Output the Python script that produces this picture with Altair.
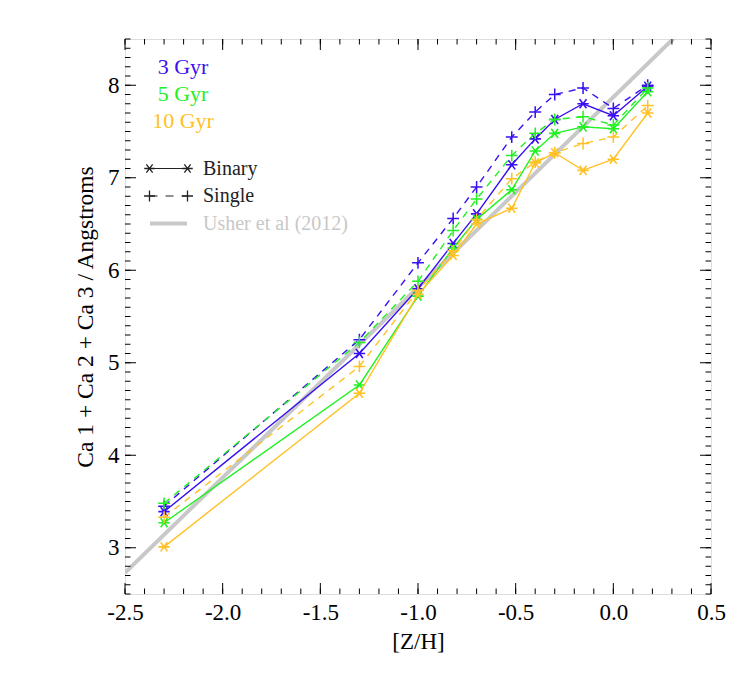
import altair as alt
import pandas as pd

# ---------------- data ----------------
zh = [-2.30, -1.30, -1.00, -0.82, -0.70, -0.52, -0.40, -0.30, -0.155, 0.0, 0.176]

bin_3 = [3.39, 5.10, 5.80, 6.29, 6.61, 7.14, 7.42, 7.63, 7.80, 7.67, 7.99]
sin_3 = [3.45, 5.25, 6.08, 6.56, 6.90, 7.44, 7.71, 7.90, 7.97, 7.75, 8.00]
bin_5 = [3.27, 4.76, 5.72, 6.24, 6.55, 6.87, 7.29, 7.48, 7.55, 7.53, 7.93]
sin_5 = [3.48, 5.22, 5.88, 6.43, 6.77, 7.24, 7.48, 7.63, 7.66, 7.57, 7.97]
bin_10 = [3.01, 4.67, 5.74, 6.16, 6.50, 6.67, 7.16, 7.27, 7.08, 7.20, 7.70]
sin_10 = [3.33, 4.96, 5.78, 6.21, 6.55, 6.99, 7.17, 7.27, 7.37, 7.44, 7.78]

ages = ["3 Gyr", "5 Gyr", "10 Gyr"]
age_colors = ["#3a10f0", "#22f022", "#ffc125"]

usher_x = [-2.5, 0.5]
usher_y = [2.73, 8.90]

legend_kinds = ["Binary", "Single", "Usher et al (2012)"]

x_major = [-2.5, -2.0, -1.5, -1.0, -0.5, 0.0, 0.5]
x_minor = [round(-2.5 + 0.1 * i, 2) for i in range(31)]
y_major = [3, 4, 5, 6, 7, 8]
y_minor = [round(2.5 + 0.1 * i, 2) for i in range(61)]

W, H = 586, 555
FONT = "Liberation Serif"

rows = []
for age, b, s in zip(ages, [bin_3, bin_5, bin_10], [sin_3, sin_5, sin_10]):
    for x, yb, ys_ in zip(zh, b, s):
        rows.append({"zh": x, "ca": yb, "age": age, "kind": "Binary"})
        rows.append({"zh": x, "ca": ys_, "age": age, "kind": "Single"})
df = pd.DataFrame(rows)

xs = alt.Scale(domain=[-2.5, 0.5], nice=False, zero=False)
ys = alt.Scale(domain=[2.5, 8.5], nice=False, zero=False)
cs = alt.Scale(domain=ages, range=age_colors)

ASTER = "M-1,0L1,0M-0.6,-0.8L0.6,0.8M-0.6,0.8L0.6,-0.8"
PLUS = "M-1,0L1,0M0,-1L0,1"

x_enc = alt.X("zh:Q", scale=xs, axis=alt.Axis(
    values=x_major, title="[Z/H]", ticks=False, domain=False, grid=False,
    labelFlush=False, labelOverlap=False,
    labelExpr="replace(format(datum.value, '.1f'), '\u2212', '-')",
    labelFont=FONT, labelFontSize=23, labelColor="black", labelPadding=7,
    titleFont=FONT, titleFontSize=23, titleFontWeight="normal", titleColor="black",
    titlePadding=6))
y_enc = alt.Y("ca:Q", scale=ys, axis=alt.Axis(
    values=y_major, title="Ca 1 + Ca 2 + Ca 3 / Angstroms", ticks=False, domain=False,
    grid=False, format="d", labelFlush=False, labelOverlap=False,
    labelFont=FONT, labelFontSize=23, labelColor="black", labelPadding=6,
    titleFont=FONT, titleFontSize=23.5, titleFontWeight="normal", titleColor="black",
    titleX=-40, titleY=H / 2, titleAngle=-90, titleBaseline="middle", titleAlign="center"))

usher_df = pd.DataFrame({"zh": usher_x, "ca": usher_y})
usher = alt.Chart(usher_df).mark_line(color="#c8c8c8", strokeWidth=4, clip=True).encode(
    x=alt.X("zh:Q", scale=xs), y=alt.Y("ca:Q", scale=ys))

layers = [usher]
for age in ages:
    d = df[df.age == age]
    base = alt.Chart(d)
    col = alt.Color("age:N", scale=cs, legend=None)
    layers.append(base.transform_filter(alt.datum.kind == "Single").mark_line(
        strokeWidth=1.4, strokeDash=[7, 6]).encode(x=x_enc, y=y_enc, color=col))
    layers.append(base.transform_filter(alt.datum.kind == "Binary").mark_line(
        strokeWidth=1.4).encode(x=x_enc, y=y_enc, color=col))
    layers.append(base.transform_filter(alt.datum.kind == "Single").mark_point(
        shape=PLUS, size=140, filled=False, strokeWidth=1.5, opacity=1).encode(
        x=x_enc, y=y_enc, color=col))
    layers.append(base.transform_filter(alt.datum.kind == "Binary").mark_point(
        shape=ASTER, size=130, filled=False, strokeWidth=1.6, opacity=1).encode(
        x=x_enc, y=y_enc, color=col))

# ---------- inward ticks on all four sides ----------
def xticks(vals, length):
    t = pd.DataFrame({"v": vals})
    b = alt.Chart(t).mark_rule(color="black", strokeWidth=1).encode(
        x=alt.X("v:Q", scale=xs), y=alt.value(H), y2=alt.value(H - length))
    tp = alt.Chart(t).mark_rule(color="black", strokeWidth=1).encode(
        x=alt.X("v:Q", scale=xs), y=alt.value(0), y2=alt.value(length))
    return [b, tp]

def yticks(vals, length):
    t = pd.DataFrame({"v": vals})
    l = alt.Chart(t).mark_rule(color="black", strokeWidth=1).encode(
        y=alt.Y("v:Q", scale=ys), x=alt.value(0), x2=alt.value(length))
    r = alt.Chart(t).mark_rule(color="black", strokeWidth=1).encode(
        y=alt.Y("v:Q", scale=ys), x=alt.value(W), x2=alt.value(W - length))
    return [l, r]

layers += xticks(x_minor, 5.5) + xticks(x_major, 11)
layers += yticks(y_minor, 5.5) + yticks(y_major, 11)

# ---------- legend ----------
age_df = pd.DataFrame({"age": ages})
age_pos = [28, 55, 82]
for age, yy in zip(ages, age_pos):
    layers.append(alt.Chart(age_df[age_df.age == age]).mark_text(
        font=FONT, fontSize=22, align="center", baseline="middle").encode(
        text="age:N", color=alt.Color("age:N", scale=cs, legend=None),
        x=alt.value(58), y=alt.value(yy)))

kind_df = pd.DataFrame({"kind": legend_kinds})
kind_y = [129.5, 157, 184.5]
kind_colors = ["#222222", "#222222", "#c8c8c8"]
for k, yy, c in zip(legend_kinds, kind_y, kind_colors):
    layers.append(alt.Chart(kind_df[kind_df.kind == k]).mark_text(
        font=FONT, fontSize=20, align="left", baseline="middle", color=c).encode(
        text="kind:N", x=alt.value(78), y=alt.value(yy)))

leg_b = kind_df[kind_df.kind == "Binary"]
leg_s = kind_df[kind_df.kind == "Single"]
leg_u = kind_df[kind_df.kind == "Usher et al (2012)"]
layers.append(alt.Chart(leg_b).mark_rule(color="#222222", strokeWidth=1.2).encode(
    x=alt.value(24.5), x2=alt.value(62.5), y=alt.value(kind_y[0])))
layers.append(alt.Chart(leg_s).mark_rule(color="#222222", strokeWidth=1.2, strokeDash=[8, 8]).encode(
    x=alt.value(24.5), x2=alt.value(62.5), y=alt.value(kind_y[1])))
layers.append(alt.Chart(leg_u).mark_rule(color="#c8c8c8", strokeWidth=4).encode(
    x=alt.value(25), x2=alt.value(62), y=alt.value(kind_y[2])))
for xx in [24.5, 62.5]:
    layers.append(alt.Chart(leg_b).mark_point(shape=ASTER, size=110, filled=False,
        color="#222222", strokeWidth=1.3, opacity=1).encode(x=alt.value(xx), y=alt.value(kind_y[0])))
    layers.append(alt.Chart(leg_s).mark_point(shape=PLUS, size=120, filled=False,
        color="#222222", strokeWidth=1.3, opacity=1).encode(x=alt.value(xx), y=alt.value(kind_y[1])))

chart = alt.layer(*layers).properties(
    width=W, height=H,
    autosize=alt.AutoSizeParams(type="none"),
    padding={"left": 117, "top": 31, "right": 20, "bottom": 64},
).configure_view(stroke="black", strokeWidth=1).configure(background="white")

chart.save("out.html", embed_options={"renderer": "svg", "actions": False})
